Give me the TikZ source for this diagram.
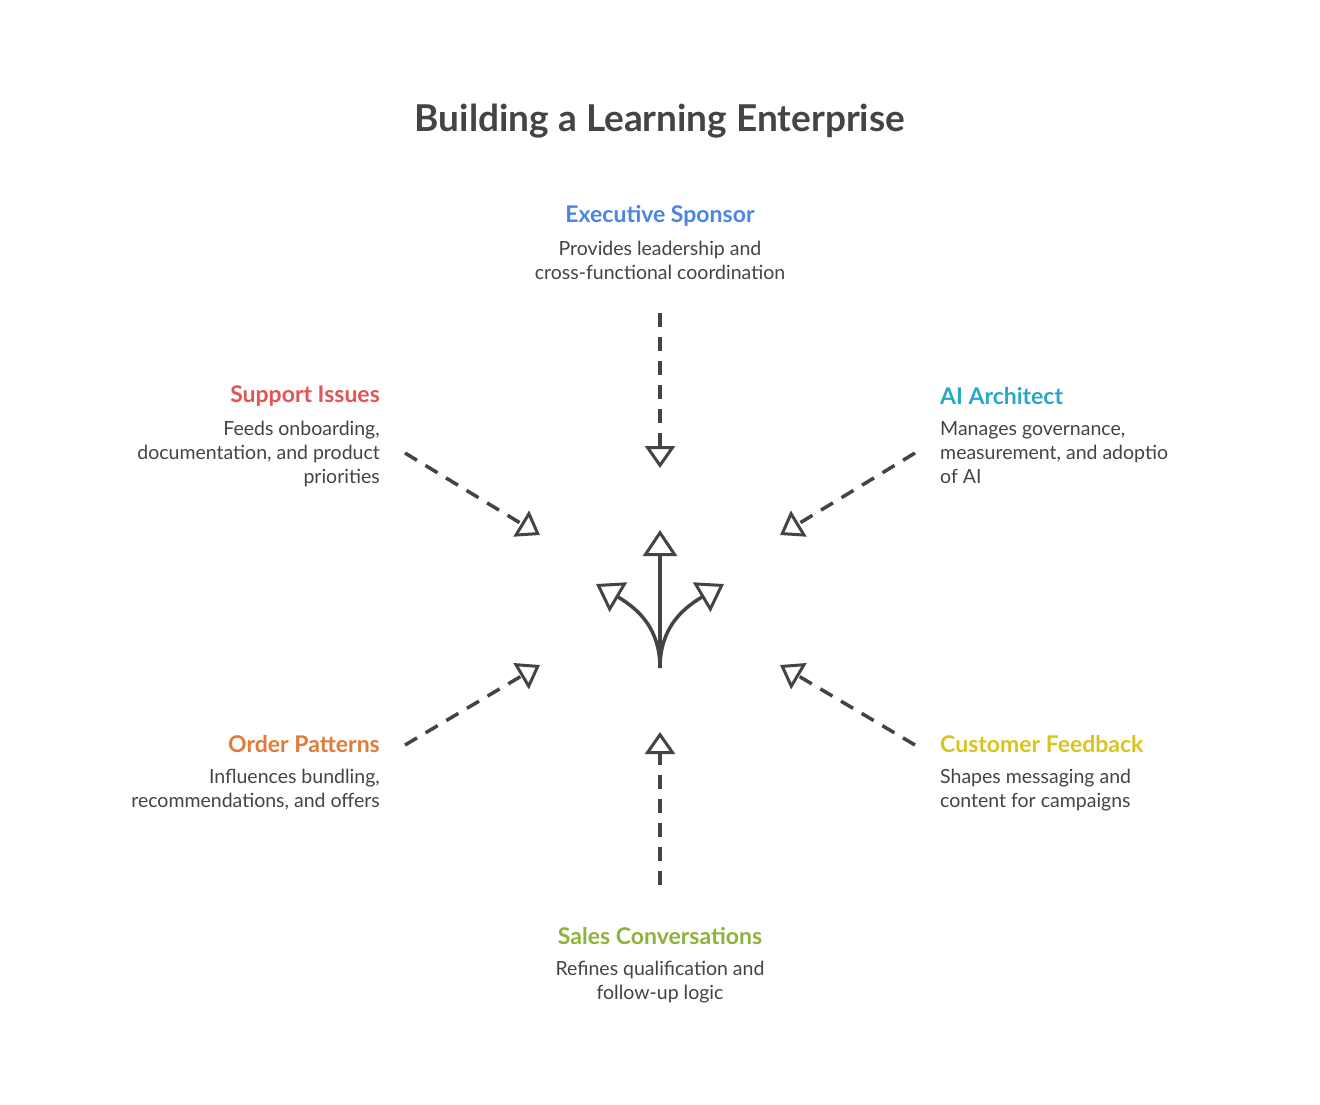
\documentclass[tikz,border=0pt]{standalone}
\usepackage{fontspec}
\setmainfont{Lato}
\usetikzlibrary{arrows.meta}
\definecolor{ink}{HTML}{444444}
\definecolor{cblue}{HTML}{4A86E0}
\definecolor{cred}{HTML}{E05555}
\definecolor{cteal}{HTML}{2AA7C9}
\definecolor{corange}{HTML}{E07B39}
\definecolor{cyellow}{HTML}{D9C41E}
\definecolor{cgreen}{HTML}{8DB33A}
\tikzstyle{headNode}=[inner sep=0pt,font=\fontsize{23}{27}\selectfont\bfseries]
\tikzstyle{descNode}=[inner sep=0pt,text=ink,font=\fontsize{19.5}{24}\selectfont]
\tikzstyle{flow}=[ink,line width=3.5pt,dash pattern=on 14pt off 10pt,
  -{Triangle[open,fill=white,length=22pt,width=30pt,line width=3pt]}]
\tikzstyle{solidFlow}=[ink,line width=3.5pt,
  -{Triangle[open,fill=white,length=26pt,width=34pt,line width=3pt]}]

\begin{document}
\begin{tikzpicture}[x=1pt,y=-1pt]
  \useasboundingbox[fill=white] (0,0) rectangle (1320,1104);

  \node[text=ink,inner sep=0pt,font=\fontsize{37}{40}\selectfont\bfseries] (title) at (660,121) {Building a Learning Enterprise};

  \node[headNode,text=cblue] (exec) at (660,216) {Executive Sponsor};
  \node[descNode,align=center,anchor=north] (execd) at (660,241) {Provides leadership and\\cross-functional coordination};

  \node[headNode,text=cred,anchor=east] (supp) at (380,396) {Support Issues};
  \node[descNode,align=right,anchor=north east] (suppd) at (380,421) {Feeds onboarding,\\documentation, and product\\priorities};

  \node[headNode,text=cteal,anchor=west] (ai) at (940,396) {AI Architect};
  \node[descNode,align=left,anchor=north west] (aid) at (940,421) {Manages governance,\\measurement, and adoptio\\of AI};

  \node[headNode,text=corange,anchor=east] (order) at (380,744) {Order Patterns};
  \node[descNode,align=right,anchor=north east] (orderd) at (380,769) {Influences bundling,\\recommendations, and offers};

  \node[headNode,text=cyellow,anchor=west] (cust) at (940,744) {Customer Feedback};
  \node[descNode,align=left,anchor=north west] (custd) at (940,769) {Shapes messaging and\\content for campaigns};

  \node[headNode,text=cgreen] (sales) at (660,936) {Sales Conversations};
  \node[descNode,align=center,anchor=north] (salesd) at (660,961) {Refines qualification and\\follow-up logic};

  % dashed inputs
  \coordinate (execS) at (660,313);   \coordinate (execT) at (660,468);
  \coordinate (suppS) at (405,453);   \coordinate (suppT) at (540,535);
  \coordinate (aiS) at (915,453);     \coordinate (aiT) at (780,535);
  \coordinate (orderS) at (405,745);  \coordinate (orderT) at (540,665);
  \coordinate (custS) at (915,745);   \coordinate (custT) at (780,665);
  \coordinate (salesS) at (660,885);  \coordinate (salesT) at (660,732);
  \draw[flow] (execS)--(execT);
  \draw[flow] (suppS)--(suppT);
  \draw[flow] (aiS)--(aiT);
  \draw[flow] (orderS)--(orderT);
  \draw[flow] (custS)--(custT);
  \draw[flow] (salesS)--(salesT);

  % center split
  \coordinate (hub) at (660,668);
  \coordinate (up) at (660,530);
  \coordinate (left) at (596,584);
  \coordinate (right) at (724,584);
  \draw[solidFlow] (hub)--(up);
  \draw[solidFlow] (hub) .. controls (660,630) and (640,610) .. (left);
  \draw[solidFlow] (hub) .. controls (660,630) and (680,610) .. (right);
\end{tikzpicture}
\end{document}
